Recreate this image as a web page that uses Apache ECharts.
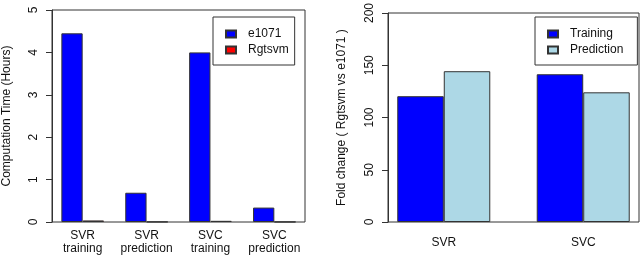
<!DOCTYPE html>
<html>
<head>
<meta charset="utf-8">
<script src="https://cdn.jsdelivr.net/npm/echarts@6/dist/echarts.min.js"></script>
<style>html,body{margin:0;padding:0;background:#fff}#c{width:640px;height:256px}</style>
</head>
<body>
<div id="c"></div>
<script>
// Left panel data
var tasks = ['SVR\ntraining', 'SVR\nprediction', 'SVC\ntraining', 'SVC\nprediction'];
var e1071Hours = [4.45, 0.69, 4.0, 0.34];
var rgtsvmHours = [0.037, 0.005, 0.028, 0.003];
var leftTicks = [0, 1, 2, 3, 4, 5];
// Right panel data
var methods = ['SVR', 'SVC'];
var trainingFold = [120.4, 141.4];
var predictionFold = [144.3, 124.1];
var rightTicks = [0, 50, 100, 150, 200];

// R barplot(beside=TRUE) group centres: 2, 5, 8, ...
function centre(i) { return 2 + 3 * i; }
function pairs(vals) { return vals.map(function (v, i) { return [centre(i), v]; }); }
function centresOf(arr) { return arr.map(function (_, i) { return centre(i); }); }

var FONT = 'Liberation Sans, Arial, sans-serif';
var LINE = '#333';
var border = { borderColor: LINE, borderWidth: 1 };

function xAxisFor(grid, names, min, max, margin) {
  var cv = centresOf(names);
  return {
    type: 'value', gridIndex: grid, min: min, max: max,
    axisLine: { show: false }, axisTick: { show: false }, splitLine: { show: false },
    axisLabel: {
      customValues: cv, margin: margin, color: '#111', fontFamily: FONT, fontSize: 12, lineHeight: 13,
      formatter: function (v) { var k = cv.indexOf(v); return k >= 0 ? names[k] : ''; }
    }
  };
}
function yAxisFor(grid, ticks, name, gap) {
  return {
    type: 'value', gridIndex: grid, min: ticks[0], max: ticks[ticks.length - 1],
    interval: ticks[1] - ticks[0],
    name: name, nameLocation: 'middle', nameGap: gap, nameRotate: 90,
    nameTextStyle: { color: '#111', fontFamily: FONT, fontSize: 12 },
    axisLine: { show: true, lineStyle: { color: LINE, width: 1 } },
    axisTick: { show: true, length: 6, lineStyle: { color: LINE } },
    splitLine: { show: false },
    axisLabel: { rotate: 90, margin: 12, color: '#111', fontFamily: FONT, fontSize: 12 }
  };
}
function legendFor(names, left, pad) {
  return {
    data: names, orient: 'vertical', left: left, top: 17,
    padding: pad, itemGap: 4, itemWidth: 10, itemHeight: 7, icon: 'rect',
    borderColor: LINE, borderWidth: 1, backgroundColor: '#fff',
    textStyle: { color: '#111', fontFamily: FONT, fontSize: 12, padding: [0, 0, 0, 7] },
    selectedMode: false
  };
}

var chart = echarts.init(document.getElementById('c'));
chart.setOption({
  animation: false,
  grid: [
    { left: 52, top: 10, width: 253, height: 212, show: true, borderColor: LINE, borderWidth: 1 },
    { left: 388, top: 10, width: 251, height: 212, show: true, borderColor: LINE, borderWidth: 1 }
  ],
  xAxis: [
    xAxisFor(0, tasks, 0.56, 12.44, 7),
    xAxisFor(1, methods, 0.8, 6.2, 14)
  ],
  yAxis: [
    yAxisFor(0, leftTicks, 'Computation Time (Hours)', 39),
    yAxisFor(1, rightTicks, 'Fold change ( Rgtsvm vs e1071 )', 40)
  ],
  legend: [
    legendFor(['e1071', 'Rgtsvm'], 213, [11, 6, 9, 12]),
    legendFor(['Training', 'Prediction'], 535, [11, 14, 9, 12])
  ],
  series: [
    { name: 'e1071', type: 'bar', xAxisIndex: 0, yAxisIndex: 0, data: pairs(e1071Hours),
      barWidth: 21.3, barGap: '0%', itemStyle: Object.assign({ color: '#0000ff' }, border) },
    { name: 'Rgtsvm', type: 'bar', xAxisIndex: 0, yAxisIndex: 0, data: pairs(rgtsvmHours),
      barWidth: 21.3, barGap: '0%', itemStyle: Object.assign({ color: '#ff0000' }, border) },
    { name: 'Training', type: 'bar', xAxisIndex: 1, yAxisIndex: 1, data: pairs(trainingFold),
      barWidth: 46.5, barGap: '0%', itemStyle: Object.assign({ color: '#0000ff' }, border) },
    { name: 'Prediction', type: 'bar', xAxisIndex: 1, yAxisIndex: 1, data: pairs(predictionFold),
      barWidth: 46.5, barGap: '0%', itemStyle: Object.assign({ color: '#add8e6' }, border) }
  ]
});
</script>
</body>
</html>
